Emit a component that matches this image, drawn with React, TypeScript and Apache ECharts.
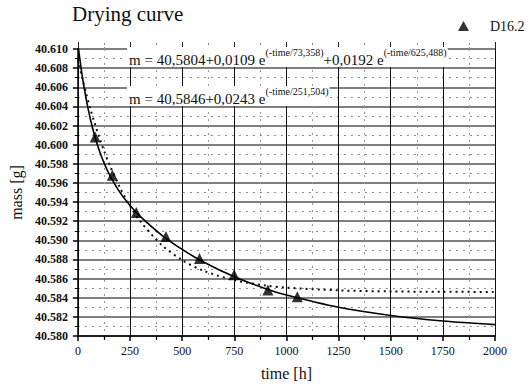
import React, { useEffect, useRef } from "react";
import * as echarts from "echarts";

const measTime = [0, 83, 165, 280, 422, 583, 749, 911, 1052];
const measMass = [40.6102, 40.6008, 40.5968, 40.5929, 40.5904, 40.5881, 40.5864, 40.5848, 40.5841];

const fitTime = [0, 20, 40, 60, 80, 100, 125, 150, 200, 250, 300, 400, 500, 600, 750, 900, 1000, 1250, 1500, 1750, 2000];
const fitDouble = [40.6105, 40.6073, 40.60473, 40.60266, 40.60096, 40.59955, 40.59811, 40.59692, 40.59506, 40.59364, 40.59247, 40.59058, 40.58905, 40.58776, 40.58619, 40.58495, 40.58428, 40.583, 40.58215, 40.58157, 40.58119];
const fitSingle = [40.6089, 40.60704, 40.60533, 40.60374, 40.60228, 40.60093, 40.59938, 40.59799, 40.59557, 40.59359, 40.59197, 40.58955, 40.58793, 40.58684, 40.58583, 40.58528, 40.58506, 40.58477, 40.58466, 40.58462, 40.58461];

const SERIF = "'Liberation Serif', 'DejaVu Serif', serif";

export default function App() {
  const ref = useRef<HTMLDivElement>(null);
  useEffect(() => {
    if (!ref.current) return;
    const chart = echarts.init(ref.current, null, { renderer: "svg" });
    const pair = (xs: number[], ys: number[]) => xs.map((x, i) => [x, ys[i]]);
    const rich = {
      b: { fontFamily: SERIF, fontSize: 15, lineHeight: 20, verticalAlign: "bottom", fill: "#111" },
      s: { fontFamily: SERIF, fontSize: 10, lineHeight: 11, verticalAlign: "top", fill: "#111" },
    };
    chart.setOption({
      animation: false,
      backgroundColor: "#fff",
      grid: { left: 74, right: 36, top: 49, bottom: 53 },
      title: {
        text: "Drying curve",
        left: 72,
        top: 3,
        padding: 0,
        textStyle: { fontFamily: SERIF, fontSize: 21, fontWeight: "normal", color: "#111" },
      },
      legend: {
        data: ["D16.2"],
        left: 458,
        top: 19,
        padding: 0,
        itemWidth: 11,
        itemHeight: 10,
        icon: "triangle",
        textStyle: { fontFamily: SERIF, fontSize: 14, color: "#111", padding: [0, 0, 0, 16] },
      },
      xAxis: [
        {
          type: "value",
          min: 0,
          max: 2000,
          interval: 250,
          name: "time [h]",
          nameLocation: "middle",
          nameGap: 29,
          nameTextStyle: { fontFamily: SERIF, fontSize: 16, color: "#111" },
          axisLine: { show: true, onZero: false, lineStyle: { color: "#000", width: 1.5 } },
          axisTick: { show: true, length: 5, lineStyle: { color: "#000", width: 1.5 } },
          minorTick: { show: true, splitNumber: 2, length: 4, lineStyle: { color: "#000", width: 1.2 } },
          axisLabel: { fontFamily: SERIF, fontSize: 12, color: "#111", margin: 9, formatter: (v: number) => String(v) },
          splitLine: { show: true, lineStyle: { color: "#111", width: 1 } },
          minorSplitLine: { show: true, lineStyle: { color: "#999", width: 1, type: [2, 5] } },
        },
        {
          type: "value",
          position: "top",
          min: 0,
          max: 2000,
          interval: 250,
          axisLine: { show: false },
          axisTick: { show: true, length: 7, lineStyle: { color: "#222", width: 1 } },
          minorTick: { show: true, splitNumber: 2, length: 6, lineStyle: { color: "#888", width: 1, type: [2, 2] } },
          axisLabel: { show: false },
          splitLine: { show: false },
        },
      ],
      yAxis: {
        type: "value",
        min: 40.58,
        max: 40.61,
        interval: 0.002,
        name: "mass [g]",
        nameLocation: "middle",
        nameGap: 48,
        nameTextStyle: { fontFamily: SERIF, fontSize: 16, color: "#111" },
        axisLine: { show: true, lineStyle: { color: "#000", width: 1.5 } },
        axisTick: { show: true, length: 5, lineStyle: { color: "#000", width: 1.5 } },
        minorTick: { show: true, splitNumber: 2, length: 3, lineStyle: { color: "#000", width: 1 } },
        axisLabel: {
          fontFamily: SERIF,
          fontSize: 12,
          fontWeight: "bold",
          color: "#111",
          margin: 10,
          formatter: (v: number) => v.toFixed(3),
        },
        splitLine: { show: true, lineStyle: { color: "#555", width: 1.5 } },
        minorSplitLine: { show: true, lineStyle: { color: "#888", width: 1, type: [2, 5] } },
      },
      series: [
        {
          name: "double exp",
          type: "line",
          data: pair(fitTime, fitDouble),
          showSymbol: false,
          smooth: 0.3,
          lineStyle: { color: "#000", width: 1.6 },
          z: 3,
        },
        {
          name: "single exp",
          type: "line",
          data: pair(fitTime, fitSingle),
          showSymbol: false,
          smooth: 0.3,
          lineStyle: { color: "#111", width: 2, type: [2, 4] },
          z: 3,
        },
        {
          name: "D16.2",
          type: "scatter",
          data: pair(measTime, measMass),
          symbol: "triangle",
          symbolSize: 11,
          itemStyle: { color: "#000" },
          z: 5,
        },
      ],
      graphic: [
        {
          type: "text",
          x: 127,
          y: 47,
          z: 10,
          style: {
            text: "{b|m = 40,5804+0,0109 e}{s|(-time/73,358)}{b|+0,0192 e}{s|(-time/625,488)}",
            backgroundColor: "#fff",
            padding: [0, 1, 0, 2],
            rich,
          },
        },
        {
          type: "text",
          x: 127,
          y: 86,
          z: 10,
          style: {
            text: "{b|m = 40,5846+0,0243 e}{s|(-time/251,504)}",
            backgroundColor: "#fff",
            padding: [0, 1, 0, 2],
            rich,
          },
        },
      ],
    });
    return () => chart.dispose();
  }, []);
  return <div ref={ref} style={{ position: "fixed", left: 0, top: 0, width: 531, height: 389 }} />;
}
